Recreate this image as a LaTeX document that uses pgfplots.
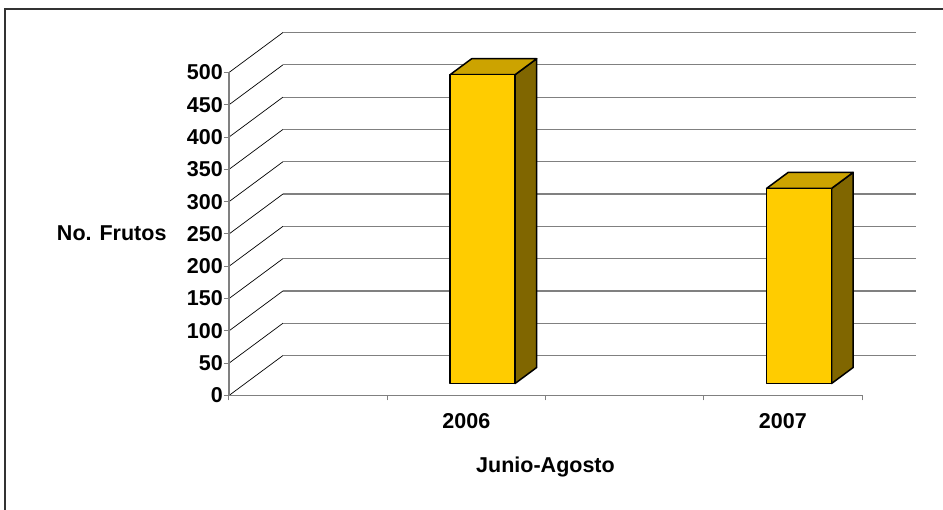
\documentclass[border=0pt]{standalone}
\usepackage{pgfplots}
\usepackage{pgfplotstable}
\pgfplotsset{compat=1.18}
\usepackage{fontspec}
\setmainfont{Liberation Sans}

\definecolor{barfront}{RGB}{255,204,0}
\definecolor{bartop}{RGB}{204,163,0}
\definecolor{barside}{RGB}{128,102,0}
\definecolor{gridgray}{RGB}{128,128,128}

% fruit count per season
\pgfplotstableread{
cat frutos
1.5 478
3.5 302
}\frutostable

% 3-D column drawn around the data point (top of the column, front of the floor)
\pgfdeclareplotmark{column3d}{%
  \pgfmathsetmacro{\h}{\barval*0.646}%
  \pgfsetlinewidth{1.5pt}%
  \pgfsetstrokecolor{black}%
  \pgfsetroundjoin
  % side face
  \pgfsetfillcolor{barside}%
  \pgfpathmoveto{\pgfqpoint{48.7pt}{12pt}}%
  \pgfpathlineto{\pgfqpoint{70.3pt}{28pt}}%
  \pgfpathlineto{\pgfpoint{70.3pt}{(28-\h)*1pt}}%
  \pgfpathlineto{\pgfpoint{48.7pt}{(12-\h)*1pt}}%
  \pgfpathclose
  \pgfusepath{fill,stroke}%
  % top face
  \pgfsetfillcolor{bartop}%
  \pgfpathmoveto{\pgfqpoint{-16.3pt}{12pt}}%
  \pgfpathlineto{\pgfqpoint{48.7pt}{12pt}}%
  \pgfpathlineto{\pgfqpoint{70.3pt}{28pt}}%
  \pgfpathlineto{\pgfqpoint{5.3pt}{28pt}}%
  \pgfpathclose
  \pgfusepath{fill,stroke}%
  % front face
  \pgfsetfillcolor{barfront}%
  \pgfpathrectanglecorners{\pgfpoint{-16.3pt}{(12-\h)*1pt}}{\pgfqpoint{48.7pt}{12pt}}%
  \pgfusepath{fill,stroke}%
}

\begin{document}
\begin{tikzpicture}[font=\fontsize{21.5}{26}\selectfont\bfseries]
\begin{axis}[
  anchor=south west, at={(0pt,0pt)},
  scale only axis,
  x=158.25pt, y=0.646pt,
  xmin=0, xmax=4.344, ymin=0, ymax=561.9,
  axis lines*=left,
  axis line style={draw=none},
  clip=false,
  tick align=outside,
  major tick length=5pt,
  tick style={gridgray, line width=1pt},
  ytick={0,50,...,500},
  xtick={0,1,2,3,4},
  xticklabels={},
  extra x ticks={1.5,3.5},
  extra x tick labels={2006,2007},
  extra x tick style={major tick length=0pt},
  /pgf/number format/assume math mode=true,
  tick label style={font=\fontsize{21.5}{26}\selectfont\bfseries},
  yticklabel style={inner sep=1pt},
  xticklabel style={anchor=base, yshift=-33pt},
  xlabel={Junio-Agosto},
  ylabel={No. Frutos},
  every axis x label/.style={at={(axis cs:2,0)}, anchor=base, yshift=-77pt},
  every axis y label/.style={at={(axis cs:0,250)}, anchor=base east, xshift=-59pt, yshift=-7pt},
]
% walls: diagonal lines on the side wall, horizontal lines on the back wall
\pgfplotsinvokeforeach{0,50,...,500}{
  \draw[black, line width=0.7pt] (axis cs:0,#1) -- (axis cs:0.3412,{#1+61.9});
  \draw[gridgray, line width=1.2pt] (axis cs:0.3412,{#1+61.9}) -- (axis cs:4.344,{#1+61.9});
}
% value axis and front edge of the floor
\draw[gridgray, line width=1.6pt] (axis cs:0,0) -- (axis cs:0,500);
\draw[gridgray, line width=1.6pt] (axis cs:0,0) -- (axis cs:4,0);

\addplot[only marks, mark=column3d,
  visualization depends on={\thisrow{frutos} \as \barval}]
  table[x=cat, y=frutos] {\frutostable};
\end{axis}
% chart area border
\draw[black!80, line width=2pt] (-224pt,-120pt) -- (-224pt,386.5pt) -- (720pt,386.5pt);
\pgfresetboundingbox
\useasboundingbox (-229pt,-114.5pt) rectangle (714pt,395.5pt);
\end{tikzpicture}
\end{document}
